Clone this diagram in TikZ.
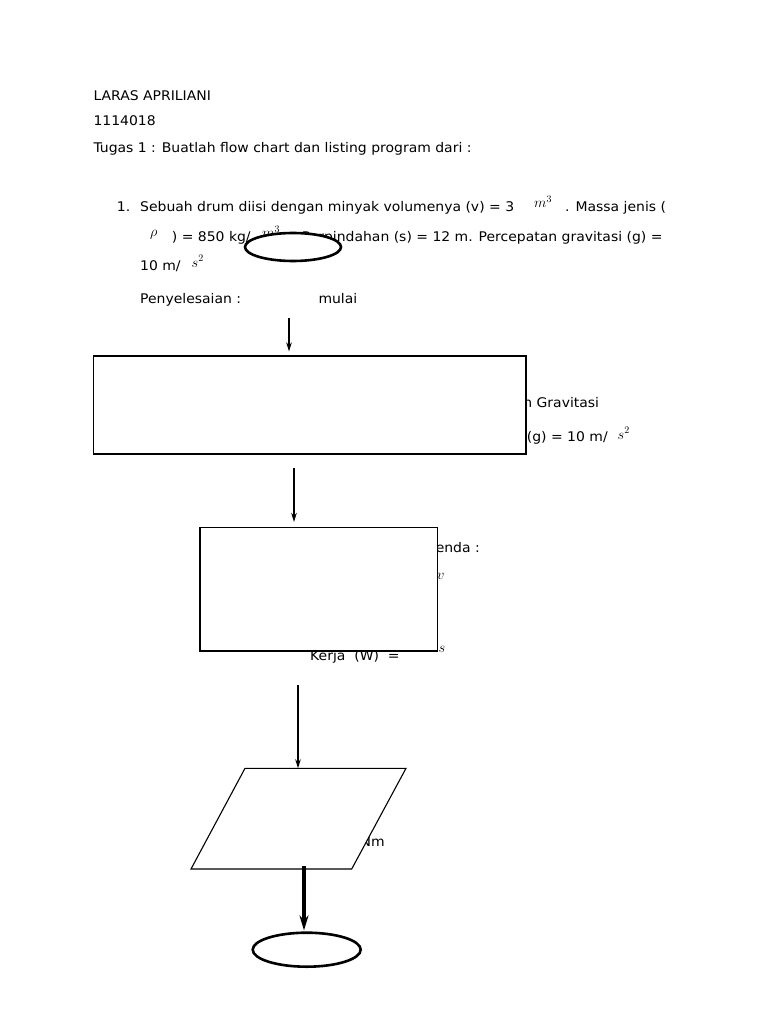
\documentclass[tikz,border=0pt]{standalone}
\usepackage{fontspec}
\setmainfont[FakeStretch=1.05]{DejaVu Sans}
\usetikzlibrary{arrows.meta,shapes.geometric}
\begin{document}
\begin{tikzpicture}[x=1pt,y=-1pt,
  txt/.style={anchor=base west,inner sep=0,font=\fontsize{13.3}{16}\selectfont},
  txte/.style={anchor=base east,inner sep=0,font=\fontsize{13.3}{16}\selectfont},
  mth/.style={anchor=base west,inner sep=0,font=\fontsize{14.5}{17}\selectfont},
  boxshape/.style={draw,rectangle,fill=white,line width=1.1pt,inner sep=0},
  termshape/.style={draw,ellipse,fill=white,line width=2.6pt,inner sep=0},
  flowarrow/.style={line width=1.5pt,-{Stealth[length=9pt,width=5.5pt]}},
  thickarrow/.style={line width=4pt,-{Stealth[length=15pt,width=9pt]}}]
\useasboundingbox (0,0) rectangle (768,1024);
% --- header text ---
\node[txt] (t1) at (93.3,100.7) {LARAS APRILIANI};
\node[txt] (t2) at (93.3,125.7) {1114018};
\node[txt] (t3) at (93.3,152.7) {Tugas 1 : Buatlah flow chart dan listing program dari :};
\node[txt] (n1) at (116.7,211.7) {1.};
\node[txt] (l1a) at (140,211.7) {Sebuah drum diisi dengan minyak volumenya (v) = 3};
\node[mth] (l1m) at (534,208) {$m^{3}$};
\node[txt] (l1b) at (565,211.7) {. Massa jenis (};
\node[mth] (l2r) at (150,236.5) {$\rho$};
\node[txt] (l2a) at (171.7,241) {) = 850 kg/};
\node[mth] (l2m) at (262,237.5) {$m^{3}$};
\node[txte] (l2b) at (662.7,241) {. Perpindahan (s) = 12 m. Percepatan gravitasi (g) =};
\node[txt] (l3a) at (140,270) {10 m/};
\node[mth] (l3s) at (191.5,267) {$s^{2}$};
\node[txt] (l4a) at (140,303.3) {Penyelesaian :};
\node[txt] (l4b) at (318.3,303.3) {mulai};
% --- text peeking out beside the boxes ---
\node[txte] (g1) at (599.3,407.3) {n Gravitasi};
\node[txt] (g2) at (526.7,441.7) {(g) = 10 m/};
\node[mth] (g3) at (617.5,439) {$s^{2}$};
\node[txte] (p1) at (480,552.3) {enda :};
\node[mth] (p2) at (437,579.5) {$v$};
\node[txt] (p3) at (310,660) {Kerja\ \ (W)\ \ =};
\node[mth] (p4) at (438.5,652) {$s$};
\node[txt] (o1) at (360.5,846.5) {Nm};
% --- flowchart shapes ---
\node[termshape,minimum width=96pt,minimum height=28pt] (start) at (293,247) {};
\node[boxshape,minimum width=432.5pt,minimum height=98pt] (input) at (309.75,405) {};
\node[boxshape,minimum width=237.7pt,minimum height=123.5pt] (proc) at (318.85,589.25) {};
\coordinate (otl) at (245,768.3);
\coordinate (otr) at (406,768.3);
\coordinate (obr) at (351.7,869);
\coordinate (obl) at (191,869);
\draw[fill=white,line width=1.1pt,line join=miter] (otl) -- (otr) -- (obr) -- (obl) -- cycle;
\node[termshape,minimum width=108pt,minimum height=34pt] (stop) at (306.7,949.7) {};
% --- connectors ---
\coordinate (a1) at (289,318.3);
\coordinate (a2) at (294,468);
\coordinate (a3) at (298,685);
\coordinate (a4) at (304,866);
\draw[flowarrow,shorten >=4pt] (a1) -- (a1 |- input.north);
\draw[flowarrow,shorten >=5pt] (a2) -- (a2 |- proc.north);
\draw[flowarrow] (a3) -- (a3 |- otl);
\draw[thickarrow,shorten >=1pt] (a4) -- (a4 |- stop.north);
\end{tikzpicture}
\end{document}
